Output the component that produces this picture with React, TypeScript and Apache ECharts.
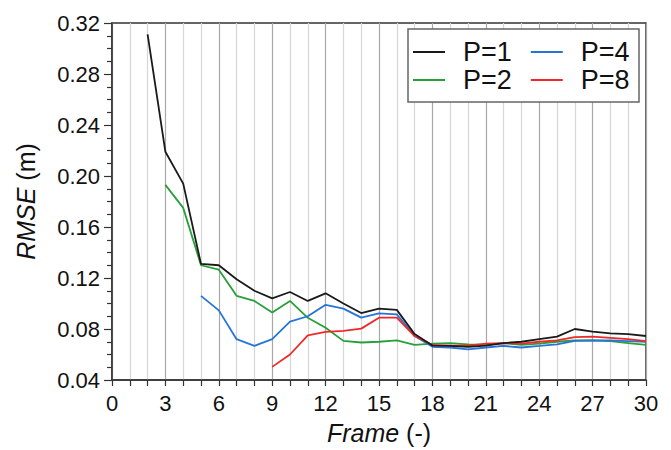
import React, { useEffect, useRef } from "react";
import * as echarts from "echarts";

const xTicks = [0, 3, 6, 9, 12, 15, 18, 21, 24, 27, 30];
const yTicks = [0.04, 0.08, 0.12, 0.16, 0.2, 0.24, 0.28, 0.32];

const p1Start = 2;
const p1 = [0.311, 0.219, 0.194, 0.131, 0.130, 0.119, 0.110, 0.104, 0.109, 0.102, 0.108, 0.100, 0.0925, 0.096, 0.095, 0.076, 0.067, 0.0667, 0.066, 0.067, 0.069, 0.070, 0.072, 0.074, 0.080, 0.078, 0.0765, 0.076, 0.0745];
const p2Start = 3;
const p2 = [0.193, 0.175, 0.130, 0.1265, 0.106, 0.102, 0.093, 0.102, 0.0888, 0.081, 0.0707, 0.0694, 0.070, 0.071, 0.0675, 0.0685, 0.069, 0.068, 0.0675, 0.069, 0.0675, 0.0685, 0.070, 0.071, 0.071, 0.0705, 0.069, 0.0675];
const p4Start = 5;
const p4 = [0.106, 0.0946, 0.072, 0.0667, 0.072, 0.0857, 0.090, 0.099, 0.096, 0.0889, 0.0922, 0.0915, 0.0745, 0.066, 0.0655, 0.064, 0.0655, 0.0667, 0.0655, 0.0667, 0.068, 0.0707, 0.071, 0.071, 0.0705, 0.070];
const p8Start = 9;
const p8 = [0.0503, 0.060, 0.075, 0.0777, 0.0785, 0.0803, 0.0889, 0.089, 0.0745, 0.0675, 0.067, 0.067, 0.0685, 0.069, 0.0685, 0.070, 0.071, 0.0737, 0.074, 0.073, 0.072, 0.0705];

const legendRow1 = ["P=1", "P=4"];
const legendRow2 = ["P=2", "P=8"];
const colors: Record<string, string> = {
  "P=1": "#1a1a1a",
  "P=2": "#27a03a",
  "P=4": "#2774d8",
  "P=8": "#f02828",
};

const toPairs = (start: number, vals: number[]) => vals.map((v, i) => [start + i, v]);

const FONT = "'Liberation Sans', Arial, sans-serif";

const legendBase = {
  orient: "horizontal",
  left: 413,
  itemWidth: 32,
  itemHeight: 2,
  itemGap: 19,
  padding: 0,
  icon: "rect",
  textStyle: {
    fontSize: 27,
    color: "#111",
    fontFamily: FONT,
    lineHeight: 27,
    padding: [0, 0, 0, 13],
  },
};

export default function App() {
  const ref = useRef<HTMLDivElement>(null);
  useEffect(() => {
    if (!ref.current) return;
    const chart = echarts.init(ref.current, undefined, { renderer: "svg" });
    const dataMap: Record<string, number[][]> = {
      "P=1": toPairs(p1Start, p1),
      "P=2": toPairs(p2Start, p2),
      "P=4": toPairs(p4Start, p4),
      "P=8": toPairs(p8Start, p8),
    };
    const drawOrder = ["P=2", "P=4", "P=8", "P=1"];
    chart.setOption({
      animation: false,
      backgroundColor: "#ffffff",
      textStyle: { fontFamily: FONT },
      grid: {
        left: 112,
        right: 25,
        top: 23,
        bottom: 68,
        show: true,
        borderColor: "#333",
        borderWidth: 1.5,
        backgroundColor: "transparent",
      },
      graphic: [
        {
          type: "rect",
          z: 3,
          shape: { x: 408, y: 29, width: 231, height: 73 },
          style: { fill: "#fff", stroke: "#666", lineWidth: 1.5 },
        },
      ],
      legend: [
        { ...legendBase, data: legendRow1, top: 38.5 },
        { ...legendBase, data: legendRow2, top: 66.5 },
      ],
      xAxis: {
        type: "value",
        min: xTicks[0],
        max: xTicks[xTicks.length - 1],
        interval: 3,
        name: "{i|Frame} (-)",
        nameLocation: "middle",
        nameGap: 40,
        nameTextStyle: {
          fontSize: 25,
          color: "#111",
          fontFamily: FONT,
          rich: { i: { fontStyle: "italic", fontSize: 25, fontFamily: FONT, color: "#111" } },
        },
        axisLine: { show: true, onZero: false, lineStyle: { color: "#333", width: 1.5 } },
        axisTick: { show: true, inside: false, length: 6, lineStyle: { color: "#333", width: 1.2 } },
        minorTick: { show: true, splitNumber: 3, length: 6, lineStyle: { color: "#333", width: 1.2 } },
        axisLabel: { fontSize: 22, color: "#111", margin: 12, fontFamily: FONT },
        splitLine: { show: true, lineStyle: { color: "#a8a8a8", width: 1.2 } },
        minorSplitLine: { show: true, lineStyle: { color: "#d6d6d6", width: 1.2 } },
      },
      yAxis: {
        type: "value",
        min: yTicks[0],
        max: yTicks[yTicks.length - 1],
        interval: 0.04,
        name: "{i|RMSE} (m)",
        nameLocation: "middle",
        nameRotate: 90,
        nameGap: 74,
        nameTextStyle: {
          fontSize: 25,
          color: "#111",
          fontFamily: FONT,
          rich: { i: { fontStyle: "italic", fontSize: 25, fontFamily: FONT, color: "#111" } },
        },
        axisLine: { show: true, onZero: false, lineStyle: { color: "#333", width: 1.5 } },
        axisTick: { show: true, inside: false, length: 8, lineStyle: { color: "#333", width: 1.2 } },
        minorTick: { show: true, splitNumber: 4, length: 5, lineStyle: { color: "#333", width: 1.2 } },
        axisLabel: {
          fontSize: 22,
          color: "#111",
          margin: 12,
          fontFamily: FONT,
          formatter: (v: number) => v.toFixed(2),
        },
        splitLine: { show: false },
      },
      series: drawOrder.map((name) => ({
        name,
        type: "line",
        data: dataMap[name],
        showSymbol: false,
        symbol: "none",
        lineStyle: { color: colors[name], width: 1.8 },
        itemStyle: { color: colors[name] },
      })),
    });
    return () => chart.dispose();
  }, []);
  return (
    <div
      ref={ref}
      style={{ position: "fixed", left: 0, top: 0, width: 671, height: 450, background: "#fff" }}
    />
  );
}
